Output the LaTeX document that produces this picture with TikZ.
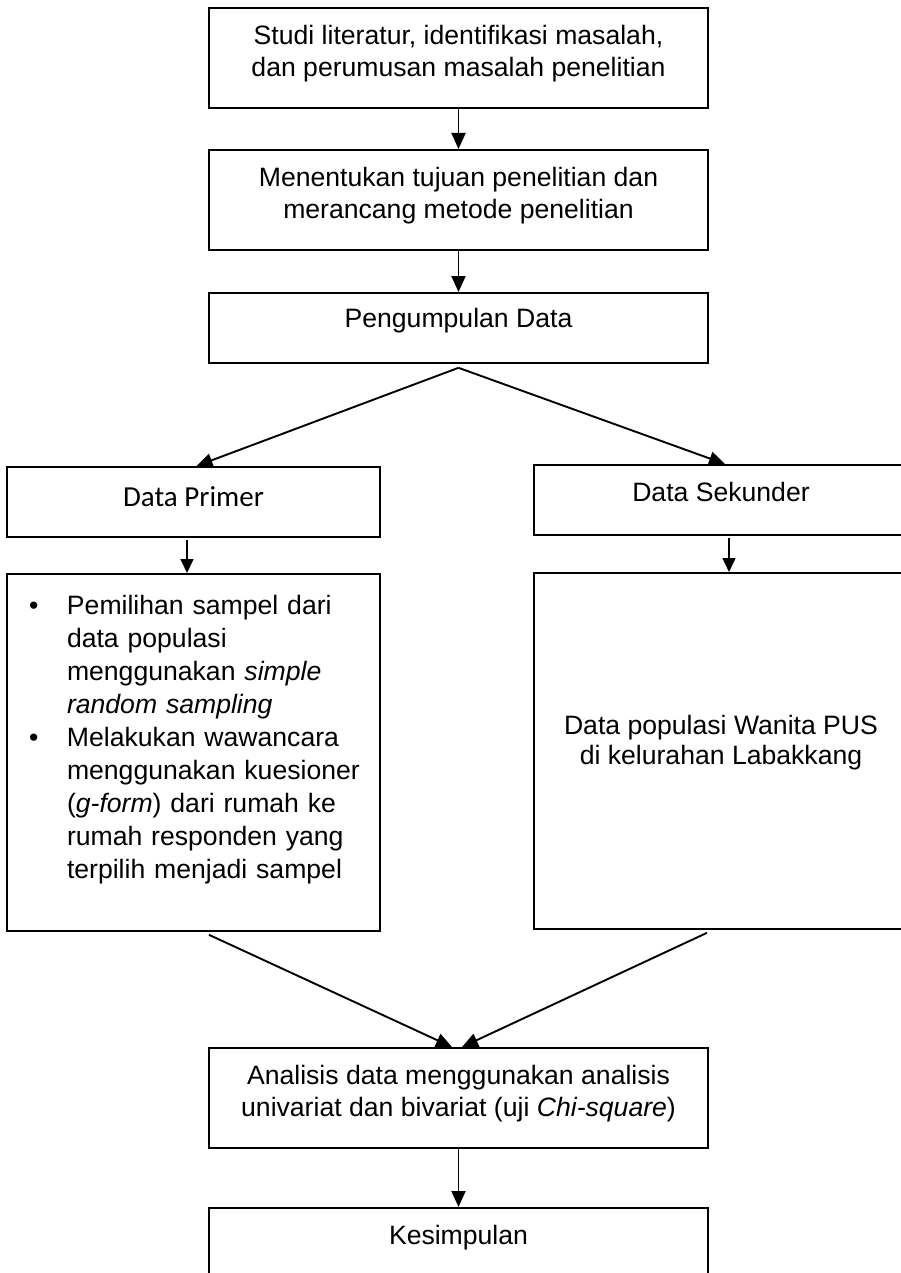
\documentclass[tikz,border=0pt]{standalone}
\usepackage{fontspec}
\setmainfont{Liberation Sans}
\newfontfamily\carlito{Carlito}
\usetikzlibrary{arrows.meta}
\tikzstyle{arrow}     = [line width=1.9pt,-{Triangle[length=16pt,width=14pt]}]
\tikzstyle{arrowthin} = [line width=1.5pt,-{Triangle[length=14pt,width=13pt]}]
\tikzstyle{block}     = [draw, line width=1.8pt, rectangle, anchor=north, inner sep=0pt, align=center, minimum width=499pt, font=\fontsize{26.6}{32}\selectfont, text height=37pt]
\tikzstyle{twoline}   = [text height=69pt, text depth=31pt]

\begin{document}
\begin{tikzpicture}[x=1pt, y=-1pt]
\useasboundingbox (0,0) rectangle (901,1273);

\node[block, twoline] (studi)   at (458.5,7)   {Studi literatur, identifikasi masalah,\\dan perumusan masalah penelitian};
\node[block, twoline] (tujuan)  at (458.5,149) {Menentukan tujuan penelitian dan\\merancang metode penelitian};
\node[block, text height=35pt, text depth=35pt] (kumpul) at (458.5,292) {Pengumpulan Data};
\coordinate (split) at ([yshift=-4pt]kumpul.south);

\node[block, minimum width=373pt, text height=40pt, text depth=30pt, font=\carlito\fontsize{29}{32}\selectfont] (primer) at (193.5,466) {Data Primer};
\node[block, minimum width=374pt, text depth=33pt] (sekunder) at (721,464) {Data Sekunder};

\node[block, minimum width=373pt, text width=329pt, inner xsep=22pt, align=left, text height=41pt, text depth=316pt, font=\fontsize{26.6}{33}\selectfont] (sampel) at (193.5,573) {%
\begin{tabular}[t]{@{}p{38pt}@{}l@{}}
\textbullet & Pemilihan sampel dari\\
 & data populasi\\
 & menggunakan \textit{simple}\\
 & \textit{random sampling}\\
\textbullet & Melakukan wawancara\\
 & menggunakan kuesioner\\
 & (\textit{g-form}) dari rumah ke\\
 & rumah responden yang\\
 & terpilih menjadi sampel
\end{tabular}};
\node[block, minimum width=374pt, text height=192pt, text depth=164pt, font=\fontsize{26.6}{30}\selectfont] (populasi) at (721,572) {Data populasi Wanita PUS\\di kelurahan Labakkang};

\node[block, twoline] (analisis)   at (458.5,1047) {Analisis data menggunakan analisis\\univariat dan bivariat (uji \textit{Chi-square})};
\node[block, text depth=80pt] (kesimpulan) at (458.5,1207) {Kesimpulan};

\draw[arrow] (studi) -- (tujuan);
\draw[arrow] (tujuan) -- (kumpul);
\draw[arrow] (split) -- ([xshift=3pt]primer.north);
\draw[arrow] (split) -- ([xshift=4pt]sekunder.north);
\draw[arrowthin] ([xshift=-6.5pt,yshift=-2pt]primer.south) -- ([xshift=-6.5pt]sampel.north);
\draw[arrowthin] ([xshift=8pt,yshift=-2pt]sekunder.south) -- ([xshift=8pt]populasi.north);
\draw[arrow] ([xshift=15.5pt,yshift=-3pt]sampel.south) -- ([xshift=-6.5pt]analisis.north);
\draw[arrow] ([xshift=-14pt,yshift=-3pt]populasi.south) -- ([xshift=3.5pt]analisis.north);
\draw[arrow] (analisis) -- (kesimpulan);

\end{tikzpicture}
\end{document}
